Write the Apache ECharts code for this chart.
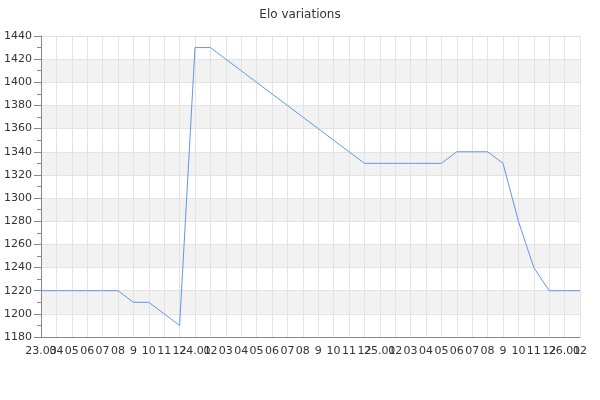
<!DOCTYPE html>
<html>
<head>
<meta charset="utf-8">
<script src="https://cdn.jsdelivr.net/npm/echarts@6/dist/echarts.min.js"></script>
<style>
  html, body { margin: 0; padding: 0; background: #fff; }
  #chart { width: 600px; height: 400px; }
</style>
</head>
<body>
<div id="chart"></div>
<script>
// monthly categories, 2023-03 .. 2026-02
const months = [
  '23.03', '04', '05', '06', '07', '08', '9', '10', '11', '12',
  '24.01', '02', '03', '04', '05', '06', '07', '08', '9', '10', '11', '12',
  '25.01', '02', '03', '04', '05', '06', '07', '08', '9', '10', '11', '12',
  '26.01', '02'
];
const elo = [
  1220, 1220, 1220, 1220, 1220, 1220, 1210, 1210, 1200, 1190,
  1430, 1430, 1420, 1410, 1400, 1390, 1380, 1370, 1360, 1350, 1340, 1330,
  1330, 1330, 1330, 1330, 1330, 1340, 1340, 1340, 1330, 1280, 1240, 1220,
  1220, 1220
];
const yMin = 1180;
const yMax = 1440;
const yStep = 20;

const chart = echarts.init(document.getElementById('chart'));

chart.setOption({
  animation: false,
  textStyle: { fontFamily: 'DejaVu Sans' },
  title: {
    text: 'Elo variations',
    left: 'center',
    top: 4,
    textStyle: { fontSize: 12, fontWeight: 'normal', color: '#333', fontFamily: 'DejaVu Sans' }
  },
  grid: { left: 41, right: 20, top: 36, bottom: 63, containLabel: false },
  xAxis: {
    type: 'category',
    data: months,
    boundaryGap: false,
    axisLine: { lineStyle: { color: '#888', width: 1 } },
    axisTick: { show: false },
    axisLabel: { interval: 0, color: '#333', fontSize: 11, margin: 9, hideOverlap: false },
    splitLine: { show: true, lineStyle: { color: '#e3e3e3', width: 1 } }
  },
  yAxis: {
    type: 'value',
    min: yMin,
    max: yMax,
    interval: yStep,
    axisLine: { show: true, lineStyle: { color: '#888', width: 1 } },
    axisTick: { show: true, inside: false, length: 7, lineStyle: { color: '#888' } },
    minorTick: { show: true, splitNumber: 2, length: 4, lineStyle: { color: '#888' } },
    axisLabel: { color: '#333', fontSize: 11, margin: 9, formatter: v => String(v) },
    splitLine: { show: true, lineStyle: { color: '#e3e3e3', width: 1 } },
    splitArea: { show: true, areaStyle: { color: ['#ffffff', '#f2f2f2'] } }
  },
  series: [{
    type: 'line',
    data: elo,
    showSymbol: false,
    symbol: 'none',
    lineStyle: { color: '#6495ed', width: 1 }
  }]
});
</script>
</body>
</html>
